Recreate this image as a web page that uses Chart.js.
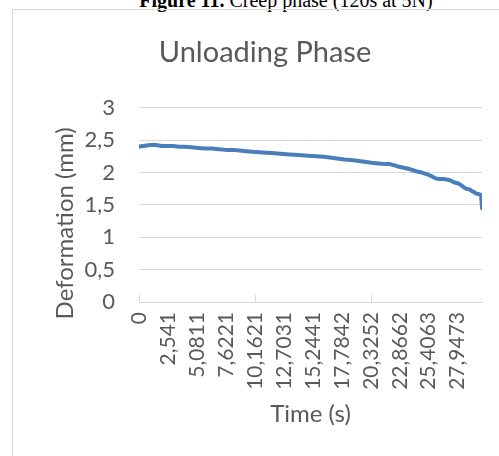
<!DOCTYPE html>
<html>
<head>
<meta charset="utf-8">
<script src="https://cdn.jsdelivr.net/npm/chart.js@4.4.1/dist/chart.umd.min.js"></script>
<style>
  html, body { margin: 0; padding: 0; background: #ffffff; overflow: hidden; }
  body { width: 499px; height: 456px; position: relative; }
  #caption {
    position: absolute; left: 0; top: -10px; width: 572px;
    text-align: center; font-family: "Liberation Serif", "Times New Roman", serif;
    font-size: 20px; line-height: 20px; color: #000; white-space: nowrap;
  }
  #frame {
    position: absolute; left: 12px; top: 9px; width: 700px; height: 700px;
    border-left: 1px solid #d9d9d9; border-top: 1px solid #d9d9d9;
  }
  #chart { position: absolute; left: 0; top: 0; }
</style>
</head>
<body>
<div id="caption"><b>Figure 11.</b> Creep phase (120s at 5N)</div>
<div id="frame"></div>
<canvas id="chart" width="499" height="456"></canvas>
<script>
// Unloading phase: deformation (mm) against time (s)
const timeS = [0, 0.4, 0.8, 1.2, 1.6, 2.0, 2.5, 3.0, 3.5, 4.0, 4.6, 5.2, 5.8, 6.4, 7.0, 7.6, 8.2, 8.8, 9.4,
  10.0, 10.8, 11.6, 12.4, 13.2, 14.0, 14.8, 15.6, 16.4, 17.2, 18.0, 18.8, 19.6, 20.4, 21.0, 21.6, 22.0,
  22.4, 22.8, 23.3, 23.8, 24.3, 24.8, 25.3, 25.7, 26.0, 26.3, 26.7, 27.1, 27.4, 27.6, 28.0, 28.3, 28.5,
  28.7, 29.0, 29.2, 29.4, 29.5, 29.7, 29.9, 30.0, 30.08];
const deformationMm = [2.40, 2.41, 2.42, 2.43, 2.42, 2.41, 2.41, 2.41, 2.40, 2.40, 2.39, 2.38, 2.37, 2.37, 2.36, 2.35, 2.35, 2.34, 2.33,
  2.32, 2.31, 2.30, 2.29, 2.28, 2.27, 2.26, 2.25, 2.24, 2.22, 2.20, 2.19, 2.17, 2.15, 2.14, 2.13, 2.13,
  2.11, 2.09, 2.07, 2.05, 2.02, 2.00, 1.97, 1.94, 1.91, 1.90, 1.90, 1.89, 1.87, 1.85, 1.83, 1.80, 1.77,
  1.75, 1.74, 1.71, 1.70, 1.68, 1.67, 1.66, 1.65, 1.45];

// Time axis labels as printed (decimal comma)
const timeTickText = ['0', '2,541', '5,0811', '7,6221', '10,1621', '12,7031', '15,2441', '17,7842',
  '20,3252', '22,8662', '25,4063', '27,9473'];
const timeTickValues = timeTickText.map(s => parseFloat(s.replace(',', '.')));
// Short tick marks on the time axis
const timeMarkValues = [timeTickValues[0], timeTickValues[4], timeTickValues[8]];

const grey = '#d9d9d9';
const textGrey = '#595959';
const FONT = 'Lato, "Open Sans", sans-serif';

const innerTicks = {
  id: 'innerTicks',
  afterDatasetsDraw(chart) {
    const xs = chart.scales.x;
    const ctx = chart.ctx;
    ctx.save();
    ctx.strokeStyle = grey;
    ctx.lineWidth = 1;
    ctx.beginPath();
    timeMarkValues.forEach(v => {
      const px = Math.round(xs.getPixelForValue(v)) + 0.5;
      ctx.moveTo(px, xs.top);
      ctx.lineTo(px, xs.top - 7);
    });
    ctx.stroke();
    ctx.restore();
  }
};

new Chart(document.getElementById('chart'), {
  type: 'line',
  data: {
    datasets: [{
      data: timeS.map((t, i) => ({ x: t, y: deformationMm[i] })),
      borderColor: '#4A7EBB',
      borderWidth: 4,
      borderCapStyle: 'round',
      borderJoinStyle: 'round',
      pointRadius: 0,
      tension: 0,
      fill: false
    }]
  },
  options: {
    responsive: false,
    animation: false,
    layout: { padding: { left: 48, right: 17, top: 0, bottom: 0 } },
    plugins: {
      legend: { display: false },
      tooltip: { enabled: false },
      title: {
        display: true,
        text: 'Unloading Phase',
        color: textGrey,
        font: { family: FONT, size: 29, weight: 'normal' },
        padding: { top: 35, bottom: 38 }
      }
    },
    scales: {
      x: {
        type: 'linear',
        min: 0,
        max: timeS[timeS.length - 1],
        afterBuildTicks(scale) { scale.ticks = timeTickValues.map(v => ({ value: v })); },
        afterFit(scale) { scale.height = 154; },
        ticks: {
          autoSkip: false,
          minRotation: 90,
          maxRotation: 90,
          padding: 10,
          color: textGrey,
          font: { family: FONT, size: 21 },
          callback: (value, index) => timeTickText[index]
        },
        grid: { drawOnChartArea: false, drawTicks: false, color: grey },
        border: { display: true, color: grey, width: 1 },
        title: {
          display: true,
          text: 'Time (s)',
          color: textGrey,
          font: { family: FONT, size: 24 },
          padding: { top: 0, bottom: 27 }
        }
      },
      y: {
        min: 0,
        max: 3,
        afterFit(scale) { scale.width = 91; },
        ticks: {
          stepSize: 0.5,
          padding: 24,
          color: textGrey,
          font: { family: FONT, size: 22 },
          callback: v => String(v).replace('.', ',')
        },
        grid: { color: grey, lineWidth: 1, drawTicks: false },
        border: { display: false },
        title: {
          display: true,
          text: 'Deformation (mm)\u00a0\u00a0\u00a0\u00a0\u00a0\u00a0',
          color: textGrey,
          font: { family: FONT, size: 24 },
          padding: { top: 3, bottom: 0 }
        }
      }
    }
  },
  plugins: [innerTicks]
});
</script>
</body>
</html>
